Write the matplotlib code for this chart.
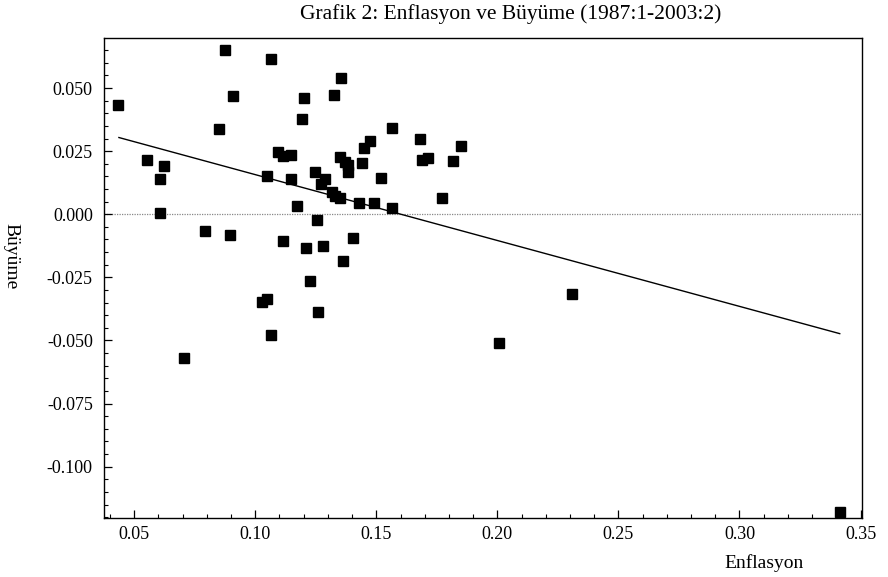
import numpy as np
import matplotlib
matplotlib.use("Agg")
import matplotlib.pyplot as plt
from matplotlib.ticker import MultipleLocator

plt.rcParams['font.family'] = ['Liberation Serif', 'DejaVu Serif']

# enflasyon (x) ve buyume (y) verileri
enflasyon = [0.0433, 0.0875, 0.1065, 0.0907, 0.0851, 0.0551, 0.0623, 0.0607, 0.0607, 0.1047,
             0.1095, 0.1113, 0.1146, 0.1148, 0.1171, 0.1201, 0.1194, 0.1247, 0.1288, 0.1272,
             0.1256, 0.0792, 0.0895, 0.1113, 0.1210, 0.1281, 0.1355, 0.1325, 0.1564, 0.1681,
             0.1849, 0.1474, 0.1449, 0.1350, 0.1370, 0.1384, 0.1384, 0.1440, 0.1688, 0.1712,
             0.1816, 0.1518, 0.1316, 0.1329, 0.1350, 0.1429, 0.1491, 0.1566, 0.1773, 0.1405,
             0.1364, 0.1226, 0.1026, 0.1050, 0.1258, 0.1064, 0.0705, 0.2007, 0.2310, 0.3417]
buyume = [0.0433, 0.0651, 0.0615, 0.0469, 0.0337, 0.0214, 0.0192, 0.0139, 0.0005, 0.0152,
          0.0245, 0.0230, 0.0234, 0.0139, 0.0032, 0.0459, 0.0377, 0.0168, 0.0138, 0.0118,
          -0.0021, -0.0066, -0.0081, -0.0107, -0.0134, -0.0126, 0.0540, 0.0472, 0.0343, 0.0300,
          0.0271, 0.0290, 0.0261, 0.0227, 0.0208, 0.0194, 0.0168, 0.0205, 0.0214, 0.0221,
          0.0210, 0.0142, 0.0088, 0.0071, 0.0066, 0.0046, 0.0046, 0.0025, 0.0065, -0.0094,
          -0.0185, -0.0265, -0.0348, -0.0337, -0.0388, -0.0477, -0.0570, -0.0511, -0.0315, -0.1180]

# regresyon dogrusu uc noktalari
fit_x = [0.0437, 0.3414]
fit_y = [0.0304, -0.0473]

x_ticks = [0.05, 0.10, 0.15, 0.20, 0.25, 0.30, 0.35]
y_ticks = [0.050, 0.025, 0.000, -0.025, -0.050, -0.075, -0.100]

fig = plt.figure(figsize=(8.88, 5.77), dpi=100)
ax = fig.add_axes([0.117, 0.102, 0.854, 0.832])

ax.axhline(0, color='#888888', lw=0.9, ls=(0, (1, 1)), zorder=1)
ax.plot(fit_x, fit_y, color='black', lw=1.0, zorder=2)
ax.plot(enflasyon, buyume, 's', color='black', markersize=7.5, zorder=3)

ax.set_xlim(0.0375, 0.3507)
ax.set_ylim(-0.1204, 0.0698)

ax.set_xticks(x_ticks)
ax.set_xticklabels(['%.2f' % v for v in x_ticks])
ax.set_yticks(y_ticks)
ax.set_yticklabels(['%.3f' % v for v in y_ticks])
ax.xaxis.set_minor_locator(MultipleLocator(0.01))
ax.yaxis.set_minor_locator(MultipleLocator(0.005))
ax.tick_params(which='both', direction='in', top=False, right=False, labelsize=13)
ax.tick_params(which='major', length=6, width=0.9)
ax.tick_params(which='minor', length=3, width=0.8)
ax.tick_params(axis='x', pad=6)
ax.tick_params(axis='y', pad=8)
for s in ax.spines.values():
    s.set_linewidth(1.0)

fig.text(0.575, 0.975, 'Grafik 2: Enflasyon ve Büyüme (1987:1-2003:2)', ha='center', va='center', fontsize=15.5)
fig.text(0.905, 1 - 563 / 577, 'Enflasyon', ha='right', va='center', fontsize=14)
fig.text(0.012, 0.556, 'Büyüme', rotation=-90, ha='center', va='center', fontsize=14)

plt.savefig('out.png', dpi=100)
